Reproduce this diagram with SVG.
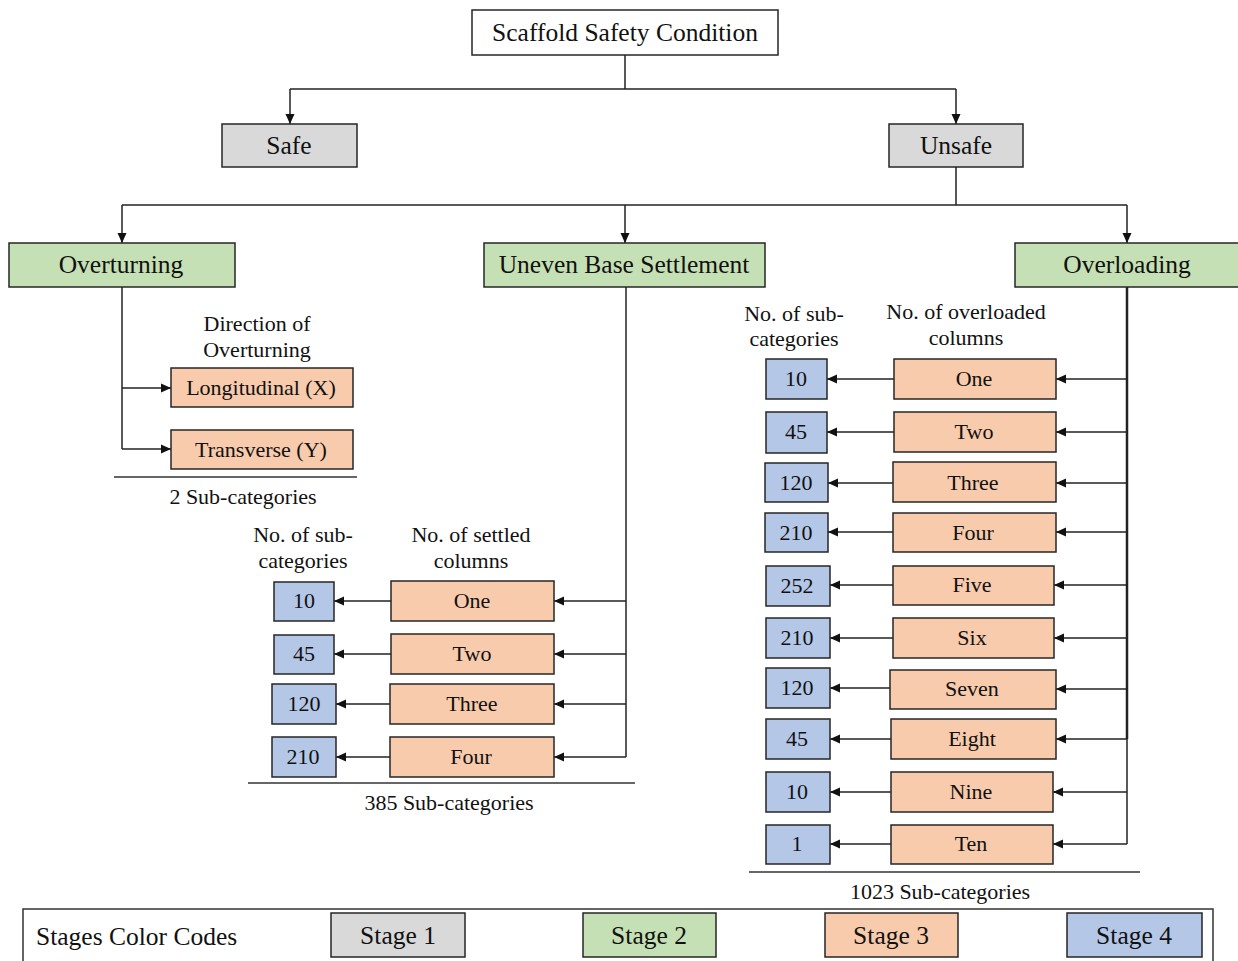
<svg xmlns="http://www.w3.org/2000/svg" width="1238" height="961" viewBox="0 0 1238 961">
  <style>
    text { font-family: "Liberation Serif", "Times New Roman", serif; fill: #111; text-anchor: middle; }
    .box { stroke: #262626; stroke-width: 1.5; }
    .white { fill: #ffffff; }
    .s1 { fill: #d9d9d9; }
    .s2 { fill: #c5e0b4; }
    .s3 { fill: #f8cbad; }
    .s4 { fill: #b4c7e7; }
    .big { font-size: 25.5px; }
    .mid { font-size: 22px; }
    .lbl { font-size: 22px; }
    .wire { fill: none; stroke: #222; stroke-width: 1.5; }
    .arr { marker-end: url(#ah); }
    .rule { stroke: #333; stroke-width: 1.5; }
  </style>
  <defs>
    <marker id="ah" markerWidth="11" markerHeight="11" refX="10" refY="5.5" orient="auto" markerUnits="userSpaceOnUse">
      <path d="M0,1 L10,5.5 L0,10 Z" fill="#111"/>
    </marker>
  </defs>

  <!-- connectors -->
  <g id="connectors">
    <!-- root to stage 1 -->
    <path class="wire" d="M625,55 V89"/>
    <path class="wire" d="M290,89 H956"/>
    <path class="wire arr" d="M290,89 V124"/>
    <path class="wire arr" d="M956,89 V124"/>
    <!-- unsafe to stage 2 -->
    <path class="wire" d="M956,167 V205"/>
    <path class="wire" d="M122,205 H1127"/>
    <path class="wire arr" d="M122,205 V243"/>
    <path class="wire arr" d="M625,205 V243"/>
    <path class="wire arr" d="M1127,205 V243"/>
    <!-- overturning branches -->
    <path class="wire" d="M122,287 V449"/>
    <path class="wire arr" d="M122,388 H171"/>
    <path class="wire arr" d="M122,449 H171"/>
    <!-- uneven base settlement branches -->
    <path class="wire" d="M626,287 V757"/>
    <path class="wire arr" d="M626,601 H554"/>
    <path class="wire arr" d="M626,654 H554"/>
    <path class="wire arr" d="M626,704 H554"/>
    <path class="wire arr" d="M626,757 H554"/>
    <path class="wire arr" d="M391,601 H334"/>
    <path class="wire arr" d="M391,654 H334"/>
    <path class="wire arr" d="M390,704 H336"/>
    <path class="wire arr" d="M390,757 H336"/>
    <!-- overloading branches -->
    <path class="wire" d="M1127,287 V739" style="stroke-width:2.5"/>
    <path class="wire" d="M1127,739 V844"/>
    <path class="wire arr" d="M1127,379 H1056"/>
    <path class="wire arr" d="M1127,432 H1056"/>
    <path class="wire arr" d="M1127,483 H1056"/>
    <path class="wire arr" d="M1127,532 H1056"/>
    <path class="wire arr" d="M1127,585 H1054"/>
    <path class="wire arr" d="M1127,638 H1054"/>
    <path class="wire arr" d="M1127,689 H1056"/>
    <path class="wire arr" d="M1127,739 H1056"/>
    <path class="wire arr" d="M1127,792 H1053"/>
    <path class="wire arr" d="M1127,844 H1053"/>
    <path class="wire arr" d="M894,379 H827"/>
    <path class="wire arr" d="M894,432 H827"/>
    <path class="wire arr" d="M893,483 H828"/>
    <path class="wire arr" d="M893,532 H828"/>
    <path class="wire arr" d="M893,585 H830"/>
    <path class="wire arr" d="M893,638 H830"/>
    <path class="wire arr" d="M890,688 H830"/>
    <path class="wire arr" d="M891,739 H830"/>
    <path class="wire arr" d="M891,792 H830"/>
    <path class="wire arr" d="M891,844 H830"/>
  </g>

  <!-- root -->
  <g id="root">
    <rect class="box white" x="472" y="10" width="306" height="45"/>
    <text class="big" x="625" y="41">Scaffold Safety Condition</text>
  </g>

  <!-- stage 1 -->
  <g id="safe">
    <rect class="box s1" x="222" y="124" width="135" height="43"/>
    <text class="big" x="289" y="154">Safe</text>
  </g>
  <g id="unsafe">
    <rect class="box s1" x="889" y="124" width="134" height="43"/>
    <text class="big" x="956" y="154">Unsafe</text>
  </g>

  <!-- stage 2 -->
  <g id="overturning">
    <rect class="box s2" x="9" y="243" width="226" height="44"/>
    <text class="big" x="121" y="273">Overturning</text>
  </g>
  <g id="uneven-base-settlement">
    <rect class="box s2" x="484" y="243" width="281" height="44"/>
    <text class="big" x="624" y="273">Uneven Base Settlement</text>
  </g>
  <g id="overloading">
    <rect class="box s2" x="1015" y="243" width="230" height="44"/>
    <text class="big" x="1127" y="273">Overloading</text>
  </g>

  <!-- overturning detail -->
  <g id="overturning-detail">
    <text class="lbl" x="257" y="331">Direction of</text>
    <text class="lbl" x="257" y="357">Overturning</text>
    <rect class="box s3" x="171" y="368" width="182" height="39"/>
    <text class="mid" x="261" y="395">Longitudinal (X)</text>
    <rect class="box s3" x="171" y="430" width="182" height="39"/>
    <text class="mid" x="261" y="457">Transverse (Y)</text>
    <line class="rule" x1="114" y1="477" x2="357" y2="477"/>
    <text class="lbl" x="243" y="504">2 Sub-categories</text>
  </g>

  <!-- uneven base settlement detail -->
  <g id="settlement-detail">
    <text class="lbl" x="303" y="542">No. of sub-</text>
    <text class="lbl" x="303" y="568">categories</text>
    <text class="lbl" x="471" y="542">No. of settled</text>
    <text class="lbl" x="471" y="568">columns</text>
  </g>
  <g id="settled-one">
    <rect class="box s3" x="391" y="581" width="163" height="40"/>
    <text class="mid" x="472" y="608">One</text>
    <rect class="box s4" x="274" y="582" width="60" height="39"/>
    <text class="mid" x="304" y="608">10</text>
  </g>
  <g id="settled-two">
    <rect class="box s3" x="391" y="634" width="163" height="40"/>
    <text class="mid" x="472" y="661">Two</text>
    <rect class="box s4" x="274" y="635" width="60" height="39"/>
    <text class="mid" x="304" y="661">45</text>
  </g>
  <g id="settled-three">
    <rect class="box s3" x="390" y="684" width="164" height="40"/>
    <text class="mid" x="472" y="711">Three</text>
    <rect class="box s4" x="272" y="684" width="64" height="40"/>
    <text class="mid" x="304" y="711">120</text>
  </g>
  <g id="settled-four">
    <rect class="box s3" x="390" y="737" width="164" height="40"/>
    <text class="mid" x="471" y="764">Four</text>
    <rect class="box s4" x="272" y="737" width="64" height="40"/>
    <text class="mid" x="303" y="764">210</text>
  </g>
  <g id="settlement-total">
    <line class="rule" x1="248" y1="783" x2="635" y2="783"/>
    <text class="lbl" x="449" y="810">385 Sub-categories</text>
  </g>

  <!-- overloading detail -->
  <g id="overloading-detail">
    <text class="lbl" x="794" y="321">No. of sub-</text>
    <text class="lbl" x="794" y="346">categories</text>
    <text class="lbl" x="966" y="319">No. of overloaded</text>
    <text class="lbl" x="966" y="345">columns</text>
  </g>
  <g id="overloaded-one">
    <rect class="box s3" x="894" y="359" width="162" height="40"/>
    <text class="mid" x="974" y="386">One</text>
    <rect class="box s4" x="766" y="359" width="61" height="40"/>
    <text class="mid" x="796" y="386">10</text>
  </g>
  <g id="overloaded-two">
    <rect class="box s3" x="894" y="412" width="162" height="40"/>
    <text class="mid" x="974" y="439">Two</text>
    <rect class="box s4" x="766" y="412" width="61" height="41"/>
    <text class="mid" x="796" y="439">45</text>
  </g>
  <g id="overloaded-three">
    <rect class="box s3" x="893" y="462" width="163" height="40"/>
    <text class="mid" x="973" y="490">Three</text>
    <rect class="box s4" x="765" y="463" width="63" height="39"/>
    <text class="mid" x="796" y="490">120</text>
  </g>
  <g id="overloaded-four">
    <rect class="box s3" x="893" y="513" width="163" height="39"/>
    <text class="mid" x="973" y="540">Four</text>
    <rect class="box s4" x="765" y="513" width="63" height="39"/>
    <text class="mid" x="796" y="540">210</text>
  </g>
  <g id="overloaded-five">
    <rect class="box s3" x="893" y="566" width="161" height="39"/>
    <text class="mid" x="972" y="592">Five</text>
    <rect class="box s4" x="766" y="566" width="64" height="40"/>
    <text class="mid" x="797" y="593">252</text>
  </g>
  <g id="overloaded-six">
    <rect class="box s3" x="893" y="618" width="161" height="40"/>
    <text class="mid" x="972" y="645">Six</text>
    <rect class="box s4" x="766" y="618" width="64" height="40"/>
    <text class="mid" x="797" y="645">210</text>
  </g>
  <g id="overloaded-seven">
    <rect class="box s3" x="890" y="670" width="166" height="39"/>
    <text class="mid" x="972" y="696">Seven</text>
    <rect class="box s4" x="766" y="668" width="64" height="40"/>
    <text class="mid" x="797" y="695">120</text>
  </g>
  <g id="overloaded-eight">
    <rect class="box s3" x="891" y="719" width="165" height="40"/>
    <text class="mid" x="972" y="746">Eight</text>
    <rect class="box s4" x="766" y="719" width="64" height="40"/>
    <text class="mid" x="797" y="746">45</text>
  </g>
  <g id="overloaded-nine">
    <rect class="box s3" x="891" y="772" width="162" height="40"/>
    <text class="mid" x="971" y="799">Nine</text>
    <rect class="box s4" x="766" y="772" width="64" height="40"/>
    <text class="mid" x="797" y="799">10</text>
  </g>
  <g id="overloaded-ten">
    <rect class="box s3" x="891" y="825" width="162" height="39"/>
    <text class="mid" x="971" y="851">Ten</text>
    <rect class="box s4" x="766" y="825" width="64" height="39"/>
    <text class="mid" x="797" y="851">1</text>
  </g>
  <g id="overloading-total">
    <line class="rule" x1="749" y1="872" x2="1140" y2="872"/>
    <text class="lbl" x="940" y="899">1023 Sub-categories</text>
  </g>

  <!-- stage colour legend -->
  <g id="legend">
    <rect x="23" y="909" width="1190" height="60" fill="#ffffff" stroke="#333" stroke-width="1.5"/>
    <text class="big" x="36" y="945" style="text-anchor:start">Stages Color Codes</text>
    <rect class="box s1" x="331" y="913" width="134" height="44"/>
    <text class="big" x="398" y="944">Stage 1</text>
    <rect class="box s2" x="583" y="913" width="133" height="44"/>
    <text class="big" x="649" y="944">Stage 2</text>
    <rect class="box s3" x="825" y="913" width="133" height="44"/>
    <text class="big" x="891" y="944">Stage 3</text>
    <rect class="box s4" x="1067" y="913" width="135" height="44"/>
    <text class="big" x="1134" y="944">Stage 4</text>
  </g>
</svg>
